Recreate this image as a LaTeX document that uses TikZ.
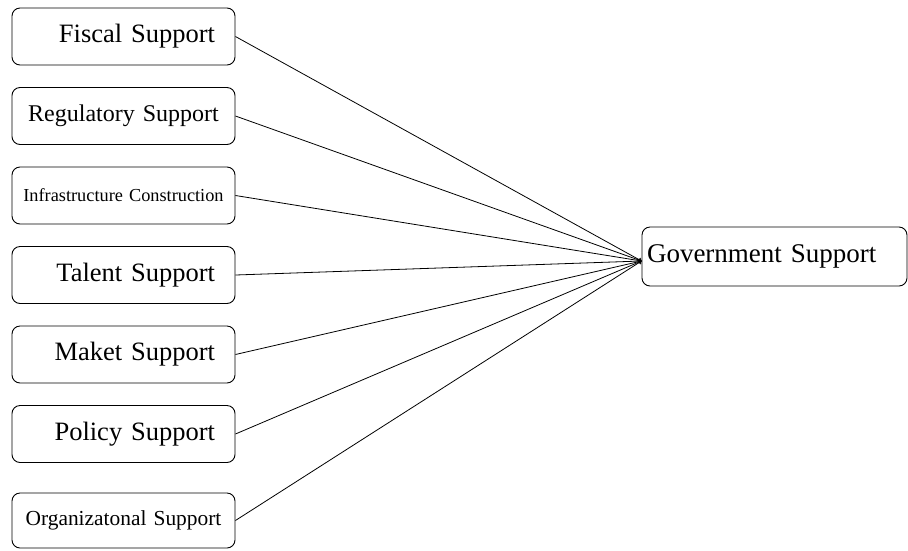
\documentclass[tikz,border=0pt]{standalone}
\usepackage{fontspec}
\setmainfont{Liberation Serif}
\usepackage{tikz}
\usetikzlibrary{shapes,arrows}

\begin{document}
\begin{tikzpicture}[x=1pt, y=-1pt, node distance=79.5pt,
    block/.style={rectangle, draw, line width=0.9pt, text width=183pt, inner xsep=20pt, align=right, rounded corners=8pt, minimum height=57pt, font=\fontsize{26.5}{30}\selectfont},
    wide/.style={text width=207pt, inner xsep=8pt, align=center},
    goal/.style={block, text width=255pt, inner xsep=5pt, align=left, minimum height=59pt, font=\fontsize{27}{31}\selectfont},
    line/.style={draw, ->, line width=0.8pt}]

    \useasboundingbox (0,0) rectangle (908,550);

    % Nodes
    \node [block] (fiscal) at (123.5,36.5) {Fiscal Support};
    \node [block, wide, below of=fiscal, font=\fontsize{24}{28}\selectfont] (regulatory) {Regulatory Support};
    \node [block, wide, below of=regulatory, font=\fontsize{18.3}{22}\selectfont] (infra) {Infrastructure Construction\\[3pt]};
    \node [block, below of=infra] (talent) {Talent Support};
    \node [block, below of=talent] (market) {Maket Support};
    \node [block, below of=market] (policy) {Policy Support};
    \node [block, wide, below of=policy, node distance=86.5pt, minimum height=55pt, font=\fontsize{21.4}{25}\selectfont] (organizational) {Organizatonal Support};
    \node [goal] (gov) at (774.5,256.5) {Government Support};
    \coordinate (hub) at ([yshift=-4.5pt]gov.west);

    % Paths
    \path [line] (fiscal.east) -- (hub);
    \path [line] (regulatory.east) -- (hub);
    \path [line] (infra.east) -- (hub);
    \path [line] (talent.east) -- (hub);
    \path [line] (market.east) -- (hub);
    \path [line] (policy.east) -- (hub);
    \path [line] (organizational.east) -- (hub);

\end{tikzpicture}
\end{document}
